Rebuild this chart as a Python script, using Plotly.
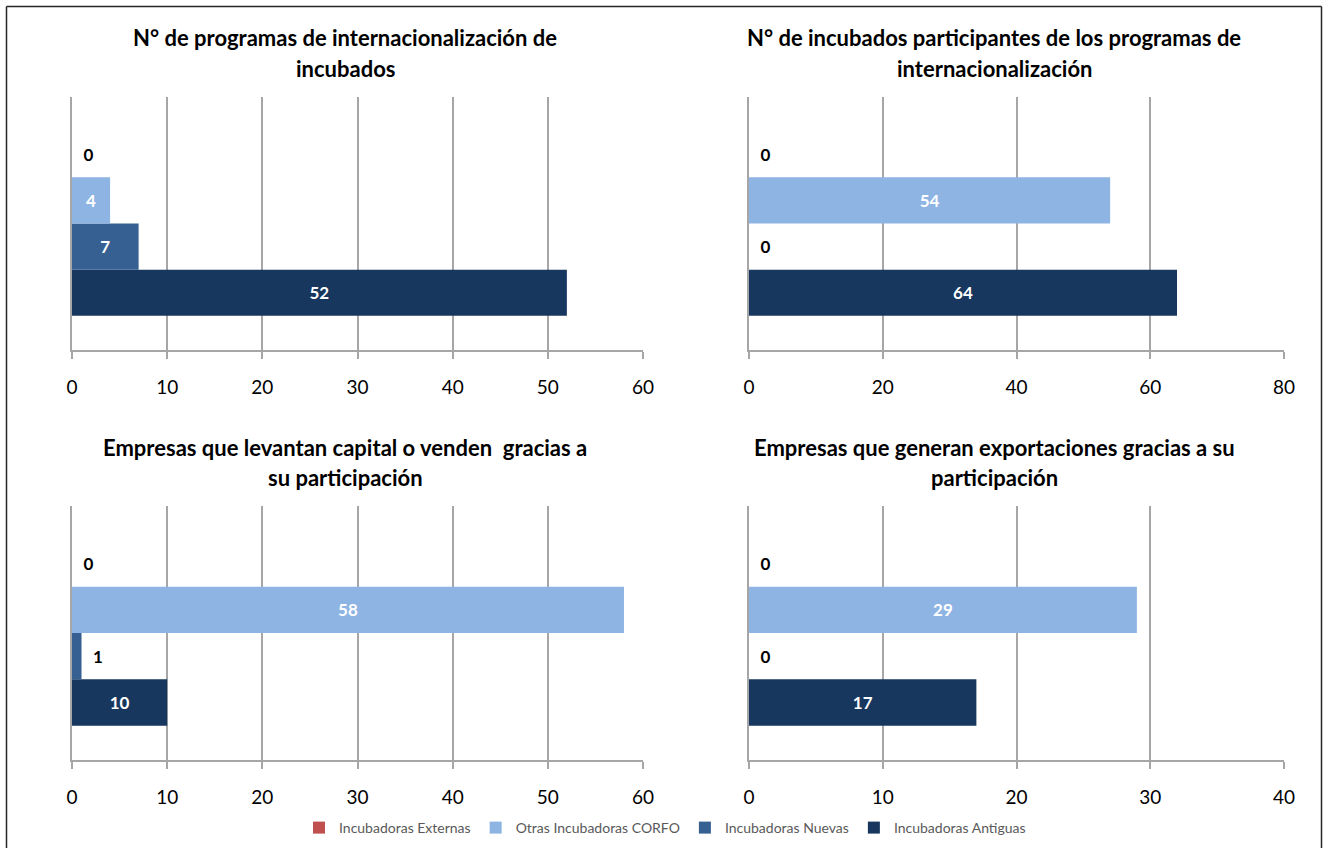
import plotly.graph_objects as go

# values (top-left, top-right, bottom-left, bottom-right)
series = ["Incubadoras Antiguas", "Incubadoras Nuevas", "Otras Incubadoras CORFO", "Incubadoras Externas"]
colors = ["#17375E", "#376092", "#8EB4E3", "#C0504D"]
antiguas = [52, 64, 10, 17]
nuevas = [7, 0, 1, 0]
otras = [4, 54, 58, 29]
externas = [0, 0, 0, 0]
x_max = [60, 80, 60, 40]
x_step = [10, 20, 10, 10]
titles = [
    ["N° de programas de internacionalización de", "incubados"],
    ["N° de incubados participantes de los programas de", "internacionalización"],
    ["Empresas que levantan capital o venden  gracias a", "su participación"],
    ["Empresas que generan exportaciones gracias a su", "participación"],
]

W, H = 1328, 848


def px(x):
    return x / W


def py(y):
    return 1 - y / H


# panel boxes in window pixels: (left, right, top, bottom)
boxes = [(72, 643, 97, 350), (749, 1284, 97, 350), (72, 643, 506, 760), (749, 1284, 506, 760)]
title_x = [345, 994, 345, 994]
title_y = [37, 447]

FONT = "Lato"
fig = go.Figure()
data = [antiguas, nuevas, otras, externas]

for p in range(4):
    ax = "" if p == 0 else str(p + 1)
    for s, name in enumerate(series):
        v = data[s][p]
        if v >= 4:
            pos, label = "inside", str(v)
        else:
            # small values sit outside the bar, a little away from its end
            pos, label = "outside", "\u2002" + str(v)
        fig.add_trace(go.Bar(
            x=[v], y=[""], orientation="h", name=name,
            marker=dict(color=colors[s], line=dict(width=0)),
            text=[label], textposition=pos, insidetextanchor="middle",
            insidetextfont=dict(family=FONT, size=17, color="white", weight="bold"),
            outsidetextfont=dict(family=FONT, size=17, color="black", weight="bold"),
            cliponaxis=False, showlegend=(p == 0), hoverinfo="skip",
            xaxis="x" + ax, yaxis="y" + ax,
        ))
    l, r, t, b = boxes[p]
    fig.layout["xaxis" + ax] = dict(
        domain=[px(l), px(r)], anchor="y" + ax, range=[0, x_max[p]], dtick=x_step[p],
        showgrid=True, gridcolor="#A6A6A6", gridwidth=1.5,
        showline=True, linecolor="#A6A6A6", linewidth=1.5,
        ticks="outside", ticklen=7, tickcolor="#A6A6A6", tickwidth=1.5,
        ticklabelstandoff=12,
        tickfont=dict(family=FONT, size=19, color="black"), zeroline=False, fixedrange=True,
    )
    fig.layout["yaxis" + ax] = dict(
        domain=[py(b), py(t)], anchor="x" + ax,
        showticklabels=False, showline=True, linecolor="#A6A6A6", linewidth=1.5,
        ticks="", showgrid=False, fixedrange=True,
    )
    for k, line in enumerate(titles[p]):
        fig.add_annotation(
            text=line, xref="paper", yref="paper", showarrow=False,
            x=px(title_x[p]), y=py(title_y[p // 2] + 31 * k),
            xanchor="center", yanchor="middle",
            font=dict(family=FONT, size=22, color="black", weight="bold"),
        )

# outer frame of the chart (left, top and right edges, open at the bottom)
fl, fr, ft = px(6.5), px(1321.5), py(6.5)
for x0, y0, x1, y1 in [(fl, ft, fl, 0), (fl, ft, fr, ft), (fr, ft, fr, 0)]:
    fig.add_shape(type="line", xref="paper", yref="paper",
                  x0=x0, y0=y0, x1=x1, y1=y1,
                  line=dict(color="#262626", width=1.5))

fig.update_layout(
    width=W, height=H, barmode="group", bargap=0.27, bargroupgap=0,
    plot_bgcolor="white", paper_bgcolor="white",
    margin=dict(l=0, r=0, t=0, b=0, autoexpand=False),
    legend=dict(orientation="h", traceorder="reversed", x=px(665), xanchor="center",
                y=py(828), yanchor="middle",
                font=dict(family=FONT, size=14, color="#595959"),
                itemwidth=30, tracegroupgap=0),
)

# drop the default page margin so the 1328x848 figure fills the window exactly
fig.write_html("out.html", config={"displayModeBar": False},
               post_script="document.body.style.margin='0';document.body.style.overflow='hidden';")
